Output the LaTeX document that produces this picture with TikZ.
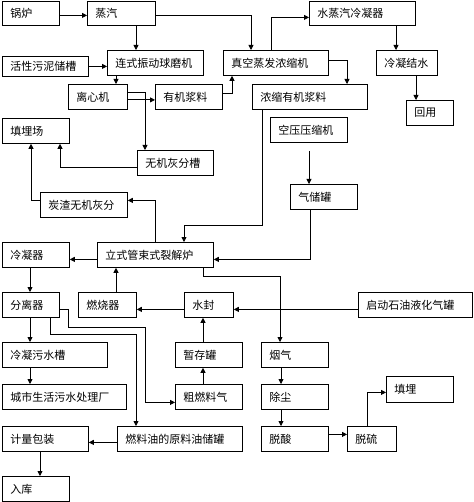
\documentclass[tikz,border=0pt]{standalone}
\usepackage{fontspec}
\newfontfamily\cjk{Noto Sans CJK SC}
\usetikzlibrary{arrows.meta}
\tikzset{
  box/.style={draw, line width=0.8pt, inner xsep=8pt, inner ysep=0pt, align=left,
    font=\cjk\fontsize{11}{12}\selectfont, anchor=north west},
  arr/.style={line width=0.8pt, -{Triangle[length=5pt,width=5pt]}},
}
\newcommand\Bx[6]{%
  \pgfmathsetmacro\bw{#4-#2}\pgfmathsetmacro\bh{#5-#3}\pgfmathsetmacro\tw{#4-#2-16}%
  \node[box, minimum width=\bw pt, minimum height=\bh pt, text width=\tw pt] (#1) at (#2,#3) {#6};}
\begin{document}
\begin{tikzpicture}[x=1pt,y=-1pt]
\useasboundingbox (0,0) rectangle (473,502);
\Bx{guolu}{2}{1}{59}{25}{锅炉}
\Bx{zhengqi}{87}{1}{155}{25}{蒸汽}
\Bx{shuizheng}{309}{1}{415}{25}{水蒸汽冷凝器}
\Bx{huoxing}{2}{56}{88}{76}{活性污泥储槽}
\Bx{lianshi}{107}{50}{203}{75}{连式振动球磨机}
\Bx{zhenkong}{223}{50}{328}{75}{真空蒸发浓缩机}
\Bx{lengning}{376}{50}{437}{75}{冷凝结水}
\Bx{huiyong}{406}{100}{453}{125}{回用}
\Bx{nongsuo}{252}{84}{367}{109}{浓缩有机浆料}
\Bx{lixin}{68}{84}{127}{109}{离心机}
\Bx{youji}{155}{84}{222}{109}{有机浆料}
\Bx{kongya}{270}{117}{347}{142}{空压压缩机}
\Bx{tianmai}{2}{118}{69}{143}{填埋场}
\Bx{wuji}{137}{150}{213}{175}{无机灰分槽}
\Bx{qichu}{290}{184}{357}{209}{气储罐}
\Bx{tanzha}{40}{192}{127}{217}{炭渣无机灰分}
\Bx{lengningqi}{2}{242}{69}{267}{冷凝器}
\Bx{lishi}{97}{242}{213}{267}{立式管束式裂解炉}
\Bx{fenli}{2}{292}{59}{317}{分离器}
\Bx{ranshao}{78}{292}{136}{317}{燃烧器}
\Bx{shuifeng}{184}{292}{233}{317}{水封}
\Bx{qidong}{358}{292}{472}{317}{启动石油液化气罐}
\Bx{wushui}{2}{342}{107}{367}{冷凝污水槽}
\Bx{zancun}{175}{342}{242}{367}{暂存罐}
\Bx{yanqi}{261}{342}{328}{367}{烟气}
\Bx{chengshi}{2}{384}{126}{409}{城市生活污水处理厂}
\Bx{cu}{175}{384}{242}{409}{粗燃料气}
\Bx{chuchen}{261}{384}{328}{409}{除尘}
\Bx{tianmai2}{386}{376}{453}{402}{填埋}
\Bx{jiliang}{2}{426}{88}{451}{计量包装}
\Bx{ranliao}{117}{426}{242}{451}{燃料油的原料油储罐}
\Bx{tuosuan}{261}{426}{328}{451}{脱酸}
\Bx{tuoliu}{347}{426}{396}{451}{脱硫}
\Bx{ruku}{2}{476}{69}{501}{入库}

\draw[arr] ([yshift=-2pt]guolu.east) -- ([yshift=-2pt]zhengqi.west);
\draw[arr] ([yshift=-2pt]zhengqi.east) -| ([xshift=28pt]zhenkong.north west);
\draw[arr] ([xshift=49pt]zhengqi.south west) coordinate (t) -- (t |- lianshi.north);
\draw[arr] (huoxing.east) -- (huoxing.east -| lianshi.west);
\draw[arr] ([xshift=9pt]lianshi.south west) coordinate (t) -- (t |- lixin.north);
\draw[arr] ([yshift=-3pt]lixin.east) coordinate (t) -- (t -| youji.west);
\draw[arr] ([yshift=4pt]lixin.east) -| ([xshift=8pt]wuji.north west);
\draw[arr] ([yshift=3.5pt]youji.east) -| ([xshift=9pt]zhenkong.south west);
\draw[arr] ([xshift=48pt]zhenkong.north west) |- ([yshift=-4pt]shuizheng.west);
\draw[arr] ([yshift=2.5pt]zhenkong.east) -| ([xshift=95pt]nongsuo.north west);
\draw[arr] ([xshift=87pt]shuizheng.south west) coordinate (t) -- (t |- lengning.north);
\draw[arr] ([xshift=40pt]lengning.south west) coordinate (t) -- (t |- huiyong.north);
\draw[arr] ([xshift=10pt]nongsuo.south west) |- ([xshift=87pt,yshift=17pt]lishi.north west) -- ([xshift=87pt]lishi.north west);
\draw[arr] ([xshift=39pt,yshift=-8pt]kongya.south west) coordinate (t) -- (t |- qichu.north);
\draw[arr] ([xshift=20pt]qichu.south west) |- ([yshift=-4.5pt]lishi.east);
\draw[arr] ([yshift=-4.5pt]wuji.west) -| ([xshift=58pt]tianmai.south west);
\draw[arr] ([yshift=4.5pt]tanzha.west) -| ([xshift=29pt]tianmai.south west);
\draw[arr] ([xshift=58pt]lishi.north west) |- ([yshift=4.5pt]tanzha.east);
\draw[arr] ([yshift=-4.5pt]lishi.west) -- ([yshift=-4.5pt]lengningqi.east);
\draw[arr] ([xshift=106pt]lishi.south west) -- ++(0,9) -| ([xshift=19pt]yanqi.north west);
\draw[arr] ([xshift=28pt]lengningqi.south west) coordinate (t) -- (t |- fenli.north);
\draw[arr] ([xshift=38pt]ranshao.north west) coordinate (t) -- (t |- lishi.south);
\draw[arr] ([yshift=-4.5pt]shuifeng.west) -- ([yshift=-4.5pt]ranshao.east);
\draw[arr] ([yshift=-4.5pt]qidong.west) -- ([yshift=-4.5pt]shuifeng.east);
\draw[arr] ([xshift=28pt]fenli.south west) coordinate (t) -- (t |- wushui.north);
\draw[arr] ([yshift=-4.5pt]fenli.east) -- ++(9,0) -- ++(0,18) -- ++(77,0) |- ([yshift=-5.5pt]cu.west);
\draw[arr] ([xshift=48pt]fenli.south west) -- ++(0,17) -| ([xshift=19pt]ranliao.north west);
\draw[arr] ([xshift=28pt]wushui.south west) coordinate (t) -- (t |- chengshi.north);
\draw[arr] ([xshift=28pt]cu.north west) coordinate (t) -- (t |- zancun.south);
\draw[arr] ([xshift=28pt]zancun.north west) coordinate (t) -- (t |- shuifeng.south);
\draw[arr] ([yshift=-3.5pt]ranliao.west) coordinate (t) -- (t -| jiliang.east);
\draw[arr] ([xshift=38pt]jiliang.south west) coordinate (t) -- (t |- ruku.north);
\draw[arr] ([xshift=20pt]yanqi.south west) coordinate (t) -- (t |- chuchen.north);
\draw[arr] ([xshift=20pt]chuchen.south west) coordinate (t) -- (t |- tuosuan.north);
\draw[arr] ([yshift=4.5pt]tuosuan.east) coordinate (t) -- (t -| tuoliu.west);
\draw[arr] ([xshift=20pt]tuoliu.north west) |- ([yshift=-3pt]tianmai2.west);
\end{tikzpicture}
\end{document}
